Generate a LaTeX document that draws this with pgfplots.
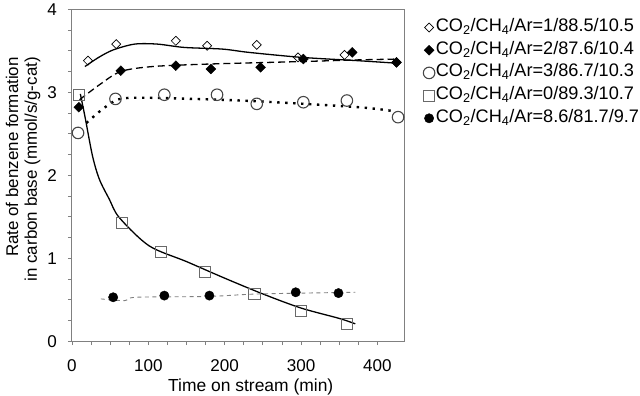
\documentclass[border=0pt]{standalone}
\usepackage{fontspec}
\setmainfont{Liberation Sans}
\usepackage{pgfplots}
\pgfplotsset{compat=1.18}
\definecolor{axgray}{RGB}{128,128,128}
\definecolor{sqgray}{RGB}{105,105,105}
\definecolor{cgray}{RGB}{70,70,70}
\newcommand{\tfont}{\fontsize{17.2}{19}\selectfont}
\newcommand{\xfont}{\fontsize{17.6}{19}\selectfont}
\newcommand{\yfont}{\fontsize{17.1}{19}\selectfont}
\newcommand{\legfont}{\fontsize{18.3}{20}\selectfont}
\newcommand{\gas}[1]{CO\textsubscript{2}/CH\textsubscript{4}/Ar=#1}
\begin{document}
\begin{tikzpicture}
\begin{axis}[
  scale only axis, width=334.7bp, height=333.7bp,
  xmin=0, xmax=436, ymin=0, ymax=4,
  xtick={0,100,200,300,400}, ytick={0,1,2,3,4},
  minor x tick num=3, minor y tick num=3,
  tick align=outside, xtick pos=bottom, ytick pos=left,
  major tick length=4bp, minor tick length=4bp,
  axis line style={axgray, line width=0.9bp},
  every tick/.style={axgray, line width=0.8bp},
  tick label style={font=\tfont},
  xticklabel style={anchor=north, inner sep=0pt, yshift=-14bp},
  yticklabel style={anchor=east, inner sep=0pt, xshift=-11bp},
  /pgf/number format/assume math mode=true,
  xlabel={Time on stream (min)},
  xlabel style={font=\xfont, at={([yshift=-51bp]rel axis cs:0.537,0)}, anchor=base, inner sep=0pt},
  ylabel={Rate of benzene formation\\in carbon base (mmol/s/g-cat)},
  ylabel style={font=\yfont, align=right, at={([xshift=-31.5bp]rel axis cs:0,0.518)}, anchor=south, inner sep=0pt},
  legend style={at={(1,1)}, anchor=north west, xshift=18.5bp, yshift=-7bp,
    draw=none, fill=none, inner sep=0pt, outer sep=0pt, font=\legfont, row sep=0pt,
    nodes={text height=13bp, text depth=5bp, inner ysep=2.4bp, inner xsep=1bp}},
  legend cell align=left,
  legend image code/.code={\draw[#1] plot coordinates {(0bp,0bp)};},
]
\coordinate (O) at (rel axis cs:0,0);
\coordinate (T) at (rel axis cs:1,1);
% fitted lines
\addplot[black, line width=1.3bp, smooth, tension=0.5, forget plot] coordinates {
(17,3.31)(35,3.42)(54,3.51)(82,3.58)(112,3.58)(147,3.54)(197,3.52)(232,3.48)(301,3.42)(375,3.38)(425,3.35)};
\addplot[black, line width=1.3bp, dash pattern=on 7bp off 4bp, smooth, tension=0.5, forget plot] coordinates {
(10,2.91)(36,3.09)(64,3.25)(106,3.31)(180,3.34)(301,3.37)(375,3.39)(427,3.40)};
\addplot[black, line width=2.4bp, dash pattern=on 2.4bp off 5.6bp, smooth, tension=0.5, forget plot] coordinates {
(19,2.63)(45,2.83)(71,2.93)(158,2.92)(245,2.89)(375,2.82)(423,2.77)};
\addplot[black, line width=1.3bp, smooth, tension=0.5, forget plot] coordinates {
(11,2.98)(17,2.71)(27,2.23)(36,1.95)(49,1.71)(62,1.49)(101,1.15)(150,0.96)(200,0.76)(250,0.57)(300,0.40)(350,0.275)(371,0.21)};
\addplot[axgray, line width=0.9bp, dash pattern=on 4bp off 3.5bp, smooth, tension=0.5, forget plot] coordinates {
(38,0.51)(69,0.49)(84,0.53)(179,0.54)(245,0.57)(371,0.59)};
% markers
\addplot[only marks, mark=square, mark size=3.2bp, mark options={rotate=45, draw=black, fill=white, line width=0.7bp}] coordinates {
(21,3.38)(58,3.58)(136,3.62)(177,3.56)(242,3.57)(296,3.42)(357,3.45)(425,3.36)};
\addlegendentry{\gas{1/88.5/10.5}}
\addplot[only marks, mark=square*, mark size=3.5bp, mark options={rotate=45, draw=black, fill=black}] coordinates {
(9,2.82)(64,3.26)(136,3.32)(182,3.28)(247,3.30)(303,3.40)(367,3.48)(425,3.36)};
\addlegendentry{\gas{2/87.6/10.4}}
\addplot[only marks, mark=o, mark size=5.8bp, mark options={draw=cgray, line width=1.1bp}] coordinates {
(8,2.51)(57,2.92)(121,2.97)(190,2.97)(242,2.86)(303,2.88)(360,2.90)(427,2.70)};
\addlegendentry{\gas{3/86.7/10.3}}
\addplot[only marks, mark=square, mark size=5.6bp, mark options={draw=sqgray, line width=0.9bp}] coordinates {
(9,2.97)(66,1.43)(117,1.08)(174,0.83)(239,0.57)(300,0.36)(360,0.21)};
\addlegendentry{\gas{0/89.3/10.7}}
\addplot[only marks, mark=*, mark size=4.7bp, mark options={draw=black, fill=black}] coordinates {
(54,0.53)(121,0.55)(180,0.55)(293,0.59)(349,0.58)};
\addlegendentry{\gas{8.6/81.7/9.7}}
\end{axis}
\path ([shift={(-72.3bp,-54bp)}]O) rectangle ([shift={(233bp,9.3bp)}]T);
\end{tikzpicture}
\end{document}
